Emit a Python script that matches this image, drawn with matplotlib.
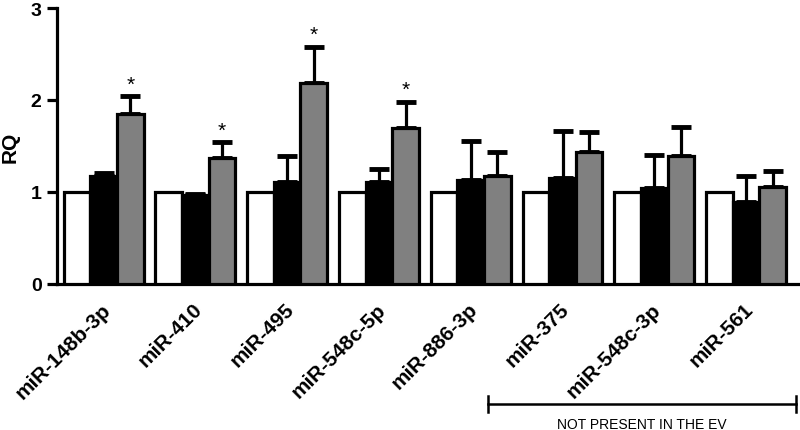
import matplotlib
matplotlib.use("Agg")
import matplotlib.pyplot as plt
import numpy as np
from matplotlib.transforms import blended_transform_factory

categories = ["miR-148b-3p", "miR-410", "miR-495", "miR-548c-5p",
              "miR-886-3p", "miR-375", "miR-548c-3p", "miR-561"]
white_vals = [1.0, 1.0, 1.0, 1.0, 1.0, 1.0, 1.0, 1.0]
black_vals = [1.17, 0.97, 1.11, 1.11, 1.13, 1.15, 1.04, 0.89]
black_err_top = [1.21, 0.98, 1.39, 1.25, 1.55, 1.66, 1.40, 1.17]
gray_vals = [1.85, 1.37, 2.18, 1.70, 1.17, 1.43, 1.39, 1.05]
gray_err_top = [2.04, 1.54, 2.58, 1.98, 1.43, 1.65, 1.71, 1.23]
significant = [True, True, True, True, False, False, False, False]
yticks = [0, 1, 2, 3]
bracket_text = "NOT PRESENT IN THE EV"

plt.rcParams['font.family'] = ['Liberation Sans', 'DejaVu Sans']

fig = plt.figure(figsize=(8.0, 4.31), dpi=100)
ax = fig.add_axes([0.071, 0.339, 0.927, 0.640])

x = np.arange(len(categories))
w = 0.29
lw = 2.3

black_vals_a = np.array(black_vals)
gray_vals_a = np.array(gray_vals)
black_err = np.array(black_err_top) - black_vals_a
gray_err = np.array(gray_err_top) - gray_vals_a

ekw = dict(elinewidth=lw, capthick=lw + 1.2, capsize=7, ecolor='black')

ax.bar(x - w, white_vals, w, color='white', edgecolor='black', linewidth=lw, zorder=3)
ax.bar(x, black_vals_a, w, color='black', edgecolor='black', linewidth=lw, zorder=3)
ax.errorbar(x, black_vals_a, yerr=[np.zeros_like(black_err), black_err], fmt='none',
            zorder=2, **ekw)
ax.bar(x + w, gray_vals_a, w, color='#808080', edgecolor='black', linewidth=lw, zorder=3)
ax.errorbar(x + w, gray_vals_a, yerr=[np.zeros_like(gray_err), gray_err], fmt='none',
            zorder=2, **ekw)

for xi, top, sig in zip(x + w, gray_err_top, significant):
    if sig:
        ax.text(xi, top + 0.03, "*", ha='center', va='bottom', fontsize=15,
                fontweight='normal')

ax.set_xlim(-0.51, 7.57)
ax.set_ylim(0, 3)
ax.set_yticks(yticks)
ax.set_yticklabels([str(t) for t in yticks], fontsize=14, fontweight='bold')
ax.set_ylabel("RQ", fontsize=15, fontweight='bold', labelpad=8)

ax.set_xticks(x - 0.03)
ax.set_xticklabels(categories, rotation=45, ha='right', rotation_mode='anchor',
                   fontsize=15, fontweight='bold')
ax.tick_params(axis='x', length=0, pad=11)
ax.tick_params(axis='y', length=7, width=lw, direction='out', pad=4)

for s in ['top', 'right']:
    ax.spines[s].set_visible(False)
for s in ['left', 'bottom']:
    ax.spines[s].set_linewidth(lw)

trans = blended_transform_factory(ax.transData, ax.transAxes)
x0, x1 = 4.19, 7.54
yb = -0.435
ax.plot([x0, x1], [yb, yb], color='black', lw=1.8, transform=trans, clip_on=False)
ax.plot([x0, x0], [yb - 0.03, yb + 0.03], color='black', lw=1.8, transform=trans, clip_on=False)
ax.plot([x1, x1], [yb - 0.03, yb + 0.03], color='black', lw=1.8, transform=trans, clip_on=False)
ax.text((x0 + x1) / 2, -0.507, bracket_text, ha='center', va='center', fontsize=10,
        transform=trans)

fig.savefig("out.png", dpi=100)
